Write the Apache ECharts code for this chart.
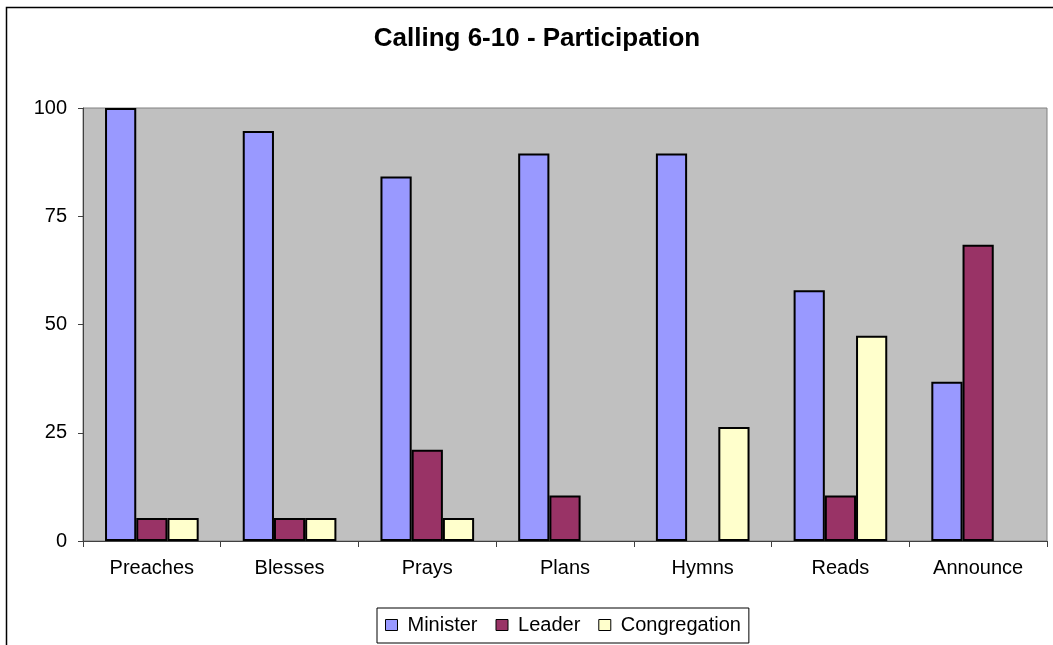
<!DOCTYPE html>
<html>
<head>
<meta charset="utf-8">
<title>Calling 6-10 - Participation</title>
<script src="https://cdn.jsdelivr.net/npm/echarts@6/dist/echarts.min.js"></script>
<style>
  html, body { margin: 0; padding: 0; background: #fff; }
  #chart { width: 1053px; height: 645px; }
</style>
</head>
<body>
<div id="chart"></div>
<script>
// categories and values (percent of respondents)
const categories = ['Preaches', 'Blesses', 'Prays', 'Plans', 'Hymns', 'Reads', 'Announce'];
const minister = [100, 94.7, 84.2, 89.5, 89.5, 57.9, 36.8];
const leader = [5.3, 5.3, 21.1, 10.5, '-', 10.5, 68.4];
const congregation = [5.3, 5.3, 5.3, '-', 26.3, 47.4, '-'];
const yTicks = [0, 25, 50, 75, 100];

const font = "'Liberation Sans', Arial, sans-serif";
const chart = echarts.init(document.getElementById('chart'));

const barStyle = function (color) {
  return { color: color, borderColor: '#000', borderWidth: 2 };
};

const option = {
  animation: false,
  textStyle: { fontFamily: font },
  graphic: [
    {
      type: 'rect',
      shape: { x: 6.5, y: 7.5, width: 1200, height: 800 },
      style: { fill: 'none', stroke: '#000', lineWidth: 1.5 },
      silent: true
    },
    {
      type: 'text',
      x: 537,
      y: 39,
      style: {
        text: 'Calling 6-10 - Participation',
        font: 'bold 26px ' + font,
        fill: '#000',
        textAlign: 'center',
        textVerticalAlign: 'middle'
      }
    }
  ],
  legend: {
    left: 377,
    top: 608,
    padding: [7, 8, 8, 8],
    borderColor: '#000',
    borderWidth: 1,
    itemGap: 18,
    itemWidth: 12,
    itemHeight: 11,
    icon: 'rect',
    itemStyle: { borderColor: '#000', borderWidth: 1 },
    textStyle: { fontSize: 20, color: '#000', fontFamily: font, padding: [0, 0, 0, 5] },
    data: ['Minister', 'Leader', 'Congregation']
  },
  grid: {
    left: 83,
    right: 6,
    top: 108,
    bottom: 104,
    show: true,
    backgroundColor: '#C0C0C0',
    borderColor: '#808080',
    borderWidth: 1
  },
  xAxis: {
    type: 'category',
    data: categories,
    axisLine: { lineStyle: { color: '#404040', width: 1 } },
    axisTick: { show: true, length: 6, lineStyle: { color: '#404040' } },
    axisLabel: { fontSize: 20, color: '#000', margin: 17, fontFamily: font }
  },
  yAxis: {
    type: 'value',
    min: 0,
    max: 100,
    interval: 25,
    splitLine: { show: false },
    axisLine: { show: true, lineStyle: { color: '#404040', width: 1 } },
    axisTick: { show: true, length: 5, lineStyle: { color: '#404040' } },
    axisLabel: {
      fontSize: 20, color: '#000', margin: 16, fontFamily: font,
      formatter: function (v) { return yTicks.indexOf(v) >= 0 ? String(v) : ''; }
    }
  },
  series: [
    {
      name: 'Minister', type: 'bar', data: minister,
      barGap: '0%', barCategoryGap: '32%',
      itemStyle: barStyle('#9999FF')
    },
    {
      name: 'Leader', type: 'bar', data: leader,
      barGap: '0%', barCategoryGap: '32%',
      itemStyle: barStyle('#993366')
    },
    {
      name: 'Congregation', type: 'bar', data: congregation,
      barGap: '0%', barCategoryGap: '32%',
      itemStyle: barStyle('#FFFFCC')
    }
  ]
};

chart.setOption(option);
</script>
</body>
</html>
